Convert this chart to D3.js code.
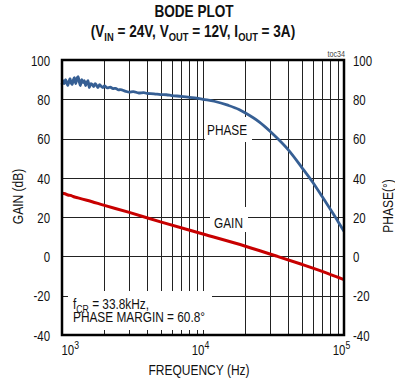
<!DOCTYPE html>
<html><head><meta charset="utf-8">
<script src="https://cdn.jsdelivr.net/npm/d3@7"></script>
<style>
body{margin:0;background:#fff}
svg{display:block}
text{font-family:"Liberation Sans",Arial,Helvetica,sans-serif;fill:#111}
</style>
</head><body>
<svg id="c" width="395" height="383"></svg>
<script>
// ---- data ----
const xTicks = [1e3, 1e4, 1e5];
const yTicks = [-40, -20, 0, 20, 40, 60, 80, 100];

const gainFreq = [1000,1050,1100,1150,1200,1300,1500,2000,3000,5000,10000,20000,33800,50000,70000,100000];
const gainDb   = [32.2,31.9,31.3,31.1,30.5,29.8,28.6,26.0,22.4,17.6,11.4,5.2,0.0,-4.0,-7.6,-11.8];

const phaseFreq = [1000,1020,1040,1060,1080,1100,1120,1140,1160,1180,1200,1225,1250,1275,1300,1325,1350,1380,1410,1440,1470,1500,1530,1560,1600,1640,1680,1720,1760,1800,1850,1900,1950,2000,2100,2200,2300,2400,2500,2600,2800,3000,3200,3500,3800,4000,4500,5000,5500,6000,7000,8000,9000,10000,12000,15000,18000,20000,25000,30000,33800,40000,50000,60000,70000,80000,90000,100000];
const phaseDeg  = [87.5,89.5,88,90,88.5,87,89,90.5,88.5,87.5,89.5,91,88,90.5,91.5,89,87,90,88.5,89.5,87,88.5,89.5,86,88,87.5,86.5,88,87,86,87.5,86.5,86,86.8,85.8,86.2,85.4,85.6,84.8,84.9,84.2,83.6,83.9,83.2,83.4,83.0,82.8,82.4,82.3,81.9,81.5,81.0,80.6,80.0,79.0,77.0,74.8,73.0,68.5,63.6,60.0,54.5,45.5,37.8,30.5,24.0,18.2,12.8];

// ---- layout ----
const L = 62, R = 344, T = 60, B = 335;
const SX = 0.8;
const svg = d3.select("#c");

const x = d3.scaleLog().domain([1e3, 1e5]).range([L, R]);
const y = d3.scaleLinear().domain([-40, 100]).range([B, T]);

function txt(g, px, py, size, anchor, weight, rot, sx) {
  return g.append("text")
    .attr("transform", `translate(${px},${py}) rotate(${rot||0}) scale(${sx||SX},1)`)
    .attr("font-size", size)
    .attr("text-anchor", anchor || "start")
    .attr("font-weight", weight || "normal");
}

// grid
const grid = svg.append("g").attr("stroke", "#222").attr("stroke-width", 1).attr("shape-rendering", "crispEdges");
grid.selectAll("line.v").data(x.ticks().filter(v => v > 1e3 && v < 1e5)).enter().append("line")
  .attr("x1", d => Math.round(x(d)) + 0.5).attr("x2", d => Math.round(x(d)) + 0.5)
  .attr("y1", T).attr("y2", B);
grid.selectAll("line.h").data(yTicks.filter(v => v > -40 && v < 100)).enter().append("line")
  .attr("x1", L).attr("x2", R)
  .attr("y1", d => Math.round(y(d)) + 0.5).attr("y2", d => Math.round(y(d)) + 0.5);

// white label boxes
const boxes = svg.append("g").attr("fill", "#fff");
boxes.append("rect").attr("x", 205).attr("y", 117).attr("width", 47).attr("height", 25);
boxes.append("rect").attr("x", 210).attr("y", 207).attr("width", 38).attr("height", 25);
boxes.append("rect").attr("x", 68).attr("y", 291).attr("width", 144).attr("height", 39);

// curves
const line = d3.line().x(d => x(d[0])).y(d => y(d[1])).curve(d3.curveMonotoneX);
svg.append("path").datum(gainFreq.map((f, i) => [f, gainDb[i]]))
  .attr("d", line).attr("fill", "none").attr("stroke", "#c80000").attr("stroke-width", 3);
svg.append("path").datum(phaseFreq.map((f, i) => [f, phaseDeg[i]]))
  .attr("d", line).attr("fill", "none").attr("stroke", "#365f94").attr("stroke-width", 2.8)
  .attr("stroke-linejoin", "round");

// axes
const fmt = d => String(d);
const axL = svg.append("g").attr("transform", `translate(${L},0)`)
  .call(d3.axisLeft(y).tickValues(yTicks).tickSize(0).tickPadding(0).tickFormat(fmt));
const axR = svg.append("g").attr("transform", `translate(${R},0)`)
  .call(d3.axisRight(y).tickValues(yTicks).tickSize(0).tickPadding(0).tickFormat(fmt));
[axL, axR].forEach(a => { a.select(".domain").remove(); a.attr("font-family", null).attr("font-size", null); });
axL.selectAll("text").attr("x", 0).attr("dy", "0.36em").attr("font-size", 14.5)
  .attr("transform", `translate(-12,0) scale(0.79,1)`);
axR.selectAll("text").attr("x", 0).attr("dy", "0.36em").attr("font-size", 14.5)
  .attr("transform", `translate(9,0) scale(0.79,1)`);

const axB = svg.append("g").attr("transform", `translate(0,${B})`)
  .call(d3.axisBottom(x).tickValues(xTicks).tickSize(0).tickPadding(0).tickFormat(() => "10"));
axB.select(".domain").remove();
axB.attr("font-family", null).attr("font-size", null);
axB.selectAll("text").attr("y", 0).attr("dy", 0).attr("font-size", 14.5)
  .attr("text-anchor", (d, i) => i === 0 ? "start" : "middle")
  .attr("transform", (d, i) => `translate(${i === 0 ? -1 : -3},20) scale(0.79,1)`)
  .append("tspan").attr("font-size", 11).attr("dy", -6).text(d => Math.round(Math.log10(d)));

// border
svg.append("rect").attr("x", L).attr("y", T).attr("width", R - L).attr("height", B - T)
  .attr("fill", "none").attr("stroke", "#000").attr("stroke-width", 2.5);

// titles
txt(svg, 194, 17, 16, "middle", "bold", 0, 0.85).text("BODE PLOT");
const st = txt(svg, 193, 37, 16, "middle", "bold", 0, 0.85);
st.append("tspan").text("(V");
st.append("tspan").attr("font-size", 11).attr("dy", 4).text("IN");
st.append("tspan").attr("dy", -4).text(" = 24V, V");
st.append("tspan").attr("font-size", 11).attr("dy", 4).text("OUT");
st.append("tspan").attr("dy", -4).text(" = 12V, I");
st.append("tspan").attr("font-size", 11).attr("dy", 4).text("OUT");
st.append("tspan").attr("dy", -4).text(" = 3A)");
txt(svg, 345, 57, 9, "end").style("fill", "#444").text("toc34");

// axis titles
txt(svg, 23, 196.5, 15, "middle", "normal", -90).text("GAIN (dB)");
txt(svg, 393, 206, 15, "middle", "normal", -90).text("PHASE(°)");
txt(svg, 199, 375, 15, "middle").text("FREQUENCY (Hz)");

// annotations
txt(svg, 207, 135, 15, "start", "normal", 0, 0.79).text("PHASE");
txt(svg, 214, 228, 15, "start", "normal", 0, 0.79).text("GAIN");
const f1 = txt(svg, 73, 309, 15, "start", "normal", 0, 0.79);
f1.append("tspan").text("f");
f1.append("tspan").attr("font-size", 11).attr("dy", 3.5).text("CR");
f1.append("tspan").attr("dy", -3.5).text(" = 33.8kHz,");
txt(svg, 73, 322, 15, "start", "normal", 0, 0.79).text("PHASE MARGIN = 60.8°");
</script>
</body></html>
